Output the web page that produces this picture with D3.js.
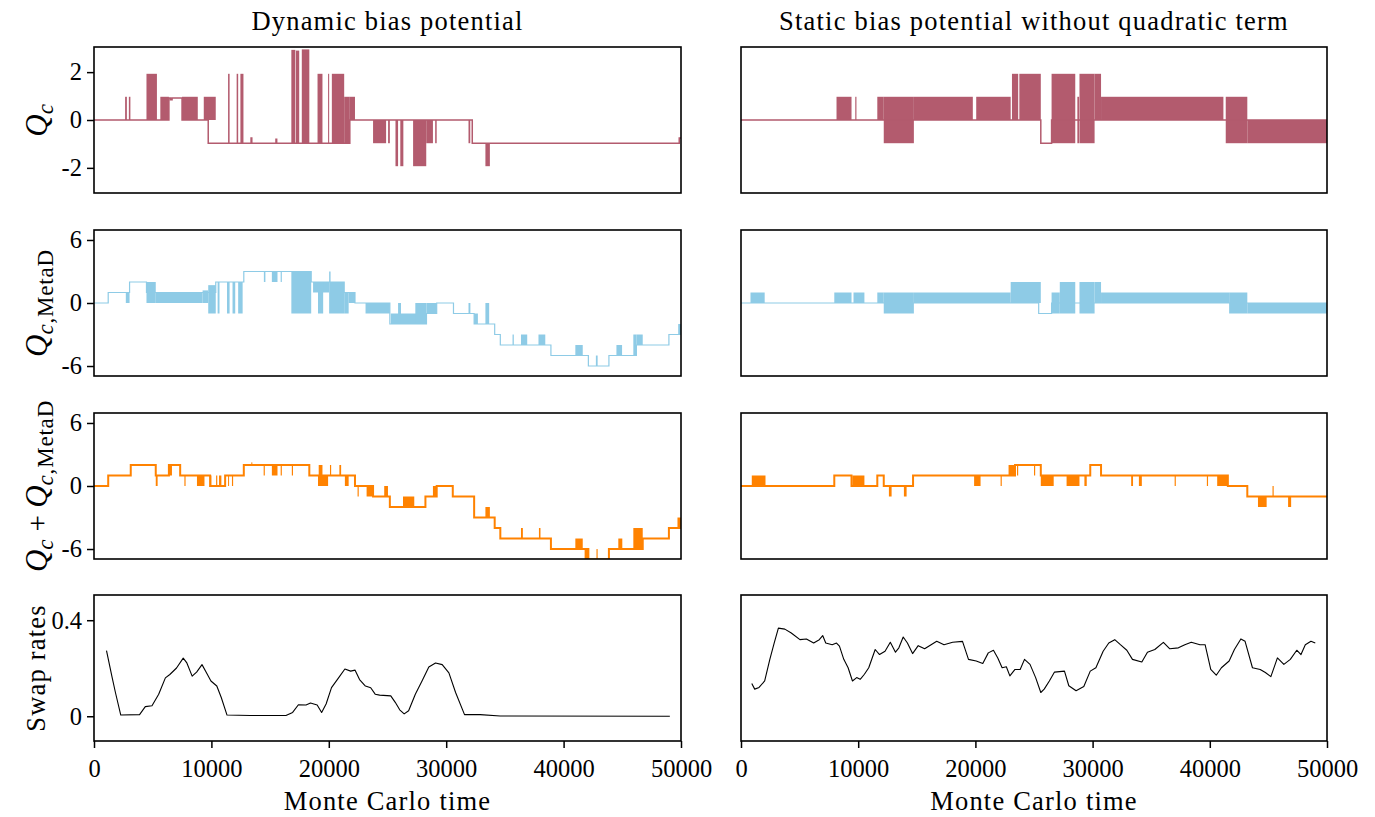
<!DOCTYPE html>
<html lang="en">
<head>
<meta charset="UTF-8">
<title>Bias potential runs</title>
<script src="https://d3js.org/d3.v7.min.js"></script>
<style>
  body { margin: 0; background: #fff; }
  svg text { font-family: "Liberation Serif", serif; fill: #000; }
  .tick text { font-size: 24.5px; }
  .lbl { font-size: 26.5px; letter-spacing: 1.2px; }
</style>
</head>
<body>
<svg id="chart" width="1375" height="817"></svg>
<script>
'use strict';

// shared axes
const xDomain = [0, 50000];
const xTicks = [0, 10000, 20000, 30000, 40000, 50000];
const colTitles = ['Dynamic bias potential', 'Static bias potential without quadratic term'];
const xLabel = 'Monte Carlo time';

const rowDomains = [[-3.05, 3.05], [-6.95, 6.95], [-6.95, 6.95], [-0.103, 0.505]];
const rowTicks = [[-2, 0, 2], [-6, 0, 6], [-6, 0, 6], [0, 0.4]];
const rowTickLabels = [['-2', '0', '2'], ['-6', '0', '6'], ['-6', '0', '6'], ['0', '0.4']];

// Q_c, dynamic bias: [t, value] steps, and [t0, t1, lo, hi] blocks where it flips fast
const qcDynSteps = [[0, 0], [6380, 0.92], [6520, 0.85], [6650, 0.92], [7500, 0], [9730, -0.97],
  [13380, -0.75], [13440, -0.97], [15500, -0.8], [15560, -0.97], [21790, 0], [32220, -0.97],
  [49850, -0.75], [50000, -0.75]];
const qcDynBands = [[2650, 2800, 0, 0.97], [2970, 3100, 0, 0.97], [4470, 5360, 0, 1.93],
  [5650, 6380, 0, 0.97], [7500, 8840, 0, 0.97], [9350, 10370, 0, 0.97],
  [11420, 11550, -0.97, 1.93], [12150, 12280, -0.97, 1.93], [12470, 12730, -0.97, 1.93],
  [16810, 17150, -0.97, 2.93], [17200, 17480, -0.97, 2.9], [17700, 18340, -0.97, 2.95],
  [19040, 19460, -0.97, 1.93], [19940, 20030, -0.97, 1.93], [20260, 21310, -0.97, 1.93],
  [21310, 21790, -0.97, 0.97], [21790, 22230, 0, 0.97], [23770, 24880, -0.97, 0],
  [25050, 25200, -0.97, 0], [25680, 25900, -1.93, 0], [26090, 26350, -1.93, 0],
  [27180, 28300, -1.93, 0], [28300, 28870, -0.97, 0], [29060, 29190, -0.97, 0],
  [31900, 32050, -0.97, 0], [33340, 33720, -1.93, -0.97]];

// Q_c, static bias
const qcStaSteps = [[0, 0], [25580, -0.97], [26500, 0], [50000, 0]];
const qcStaBands = [[8150, 9430, 0, 0.97], [9750, 9850, 0, 0.97], [11630, 12180, 0, 0.97],
  [12180, 14750, -0.97, 0.97], [14750, 19780, 0, 0.97], [20070, 23010, 0, 0.97],
  [23120, 23650, 0, 1.93], [23750, 25580, 0, 1.93], [26500, 28520, -0.97, 1.93],
  [28700, 28850, -0.97, 0.97], [28880, 30170, -0.97, 1.93], [30170, 30720, 0, 1.93],
  [30720, 41160, 0, 0.97], [41360, 43200, -0.97, 0.97], [43200, 50000, -0.97, 0]];

// Q_c,MetaD, dynamic bias
const metaDynSteps = [[0, 0], [1210, 1], [3030, 2], [4470, 1], [10370, 2], [12760, 3],
  [18500, 2], [21310, 1], [22230, 0], [25200, -2], [28320, -1], [29190, 0], [30620, -1],
  [32380, -2], [34130, -3], [34610, -4], [38920, -5], [41630, -5], [42110, -6],
  [43860, -5], [46200, -4], [48970, -3], [50000, -3]];
const metaDynBands = [[2710, 3030, 0, 1], [4470, 5260, 0, 2], [5260, 9250, 0, 1],
  [9250, 9730, 0, 1.2], [9730, 10370, -1, 1.7], [10530, 10690, -1, 2], [11330, 11550, -1, 2],
  [11800, 12030, -1, 2], [12280, 12660, -1, 2], [14470, 14600, 2, 3], [15150, 15630, 2, 3],
  [15900, 16000, 2, 3], [16810, 18500, -1, 3], [18660, 20030, 1, 2], [19080, 19520, -1, 2],
  [20030, 20150, 2, 3], [20030, 21310, -1, 2], [21310, 21690, -1, 1], [21690, 22230, 0, 1],
  [23130, 25200, -1, 0], [25280, 28320, -2, -1], [25900, 26150, -2, 0], [27370, 28320, -2, 0],
  [28320, 29190, -1, 0], [31900, 32060, -1, 0], [32380, 32700, -2, -1], [33340, 33660, -2, 0],
  [35650, 35760, -4, -3], [36370, 36900, -4, -3], [37860, 38440, -4, -3], [41000, 41630, -5, -4],
  [42750, 42900, -6, -5], [44500, 44980, -5, -4], [45940, 46200, -5, -3], [46200, 46740, -4, -3],
  [49760, 50000, -3, -2]];

// Q_c,MetaD, static bias
const metaStaSteps = [[0, 0], [25400, -1], [26500, 0], [50000, 0]];
const metaStaBands = [[810, 2020, 0, 1], [7960, 9430, 0, 1], [9600, 10530, 0, 1],
  [11630, 12180, 0, 1], [12180, 14750, -1, 1], [14750, 23010, 0, 1], [23010, 25580, 0, 2],
  [26500, 27200, -1, 1], [27200, 28520, -1, 2], [28880, 30170, -1, 2], [30170, 30720, 0, 2],
  [30720, 41650, 0, 1], [41650, 43200, -1, 1], [43200, 50000, -1, 0]];

// Q_c + Q_c,MetaD, dynamic bias
const sumDynSteps = [[0, 0], [1210, 1], [3130, 2], [5260, 1], [6380, 2], [7340, 1],
  [9890, 0], [11170, 1], [12760, 2], [18340, 1], [22230, 0], [23770, -1], [25200, -2],
  [28230, -1], [29190, 0], [30560, -1], [32380, -3], [34130, -4], [34610, -5], [38920, -6],
  [42110, -7], [43860, -6], [46740, -5], [48970, -4], [50000, -4]];
const sumDynBands = [[5260, 5420, 0, 1], [6380, 6640, 1, 2], [7700, 7800, 0, 1], [8770, 9410, 0, 1],
  [9890, 10000, 0, 1], [10400, 10500, 0, 1], [10650, 10850, 0, 1], [11420, 11500, 0, 1],
  [11750, 11850, 0, 1], [13400, 13480, 2, 2.25], [14450, 14550, 1, 2], [15150, 15630, 1, 2],
  [15900, 16000, 1, 2], [16850, 16950, 1, 2], [19080, 19940, 0, 1], [19140, 19460, 1, 2],
  [20100, 20200, 1, 2], [20900, 21050, 1, 2], [21370, 21690, 0, 1], [22450, 22550, -1, 0],
  [23220, 23770, -1, 0], [24720, 25040, -1, 0], [26320, 27280, -2, -1], [28870, 29190, -1, 0],
  [33340, 33720, -3, -2], [36370, 36530, -5, -4], [37900, 38030, -5, -4], [41000, 41630, -6, -5],
  [41790, 42110, -7, -6], [42800, 42900, -7, -6], [44660, 45000, -6, -5], [45940, 46740, -6, -4],
  [49700, 50000, -4, -3]];

// Q_c + Q_c,MetaD, static bias
const sumStaSteps = [[0, 0], [7960, 1], [9430, 0], [11630, 1], [12180, 0], [14680, 1],
  [23380, 2], [25580, 1], [29800, 2], [30720, 1], [41540, 0], [43200, -1], [50000, -1]];
const sumStaBands = [[920, 2090, 0, 1], [9500, 10530, 0, 1], [12620, 12850, -1, 0],
  [13900, 14130, -1, 0], [19890, 20440, 0, 1], [22150, 22250, 0, 1], [22830, 23380, 1, 2],
  [23550, 23650, 1, 2], [25000, 25100, 1, 2], [25580, 26680, 0, 1], [27780, 28880, 0, 1],
  [29300, 29500, 0, 1], [33290, 33450, 0, 1], [33950, 34200, 0, 1], [37000, 37100, 0, 1],
  [39750, 39850, 0, 1], [40630, 41540, 0, 1], [44110, 44850, -2, -1], [45350, 45450, -1, 0],
  [46680, 46940, -2, -1]];

// swap rates [t, rate]
const swapDyn = [[1065, 0.273], [1520, 0.167], [1825, 0.099], [2280, 0.005], [3880, 0.007],
  [4370, 0.040], [4940, 0.044], [5510, 0.092], [6080, 0.160], [6460, 0.174], [7030, 0.201],
  [7600, 0.242], [7910, 0.222], [8360, 0.167], [8740, 0.184], [9200, 0.215], [9580, 0.181],
  [9960, 0.147], [10460, 0.126], [10840, 0.078], [11330, 0.005], [13310, 0.003], [16350, 0.003],
  [16920, 0.016], [17410, 0.048], [18060, 0.047], [18440, 0.055], [19010, 0.047], [19390, 0.016],
  [19770, 0.051], [20230, 0.119], [20830, 0.160], [21370, 0.197], [21860, 0.188], [22240, 0.192],
  [22620, 0.153], [23120, 0.126], [23570, 0.119], [23950, 0.092], [24330, 0.088], [25280, 0.085],
  [25660, 0.058], [26040, 0.027], [26420, 0.010], [26800, 0.023], [27370, 0.092], [27940, 0.147],
  [28520, 0.205], [29090, 0.222], [29660, 0.215], [30230, 0.181], [30800, 0.099], [31560, 0.007],
  [32890, 0.007], [34600, 0.001], [49050, 0]];
const swapSta = [[920, 0.136], [1170, 0.113], [1540, 0.120], [2020, 0.147], [2460, 0.237],
  [2830, 0.305], [3190, 0.367], [3740, 0.363], [4290, 0.347], [5030, 0.319], [5580, 0.322],
  [6200, 0.305], [6680, 0.319], [6970, 0.336], [7230, 0.305], [7780, 0.298], [8150, 0.305],
  [8400, 0.292], [8770, 0.237], [9140, 0.202], [9510, 0.147], [9870, 0.161], [10170, 0.154],
  [10530, 0.175], [10900, 0.202], [11450, 0.278], [11820, 0.257], [12290, 0.271], [12740, 0.308],
  [13180, 0.267], [13470, 0.285], [13840, 0.330], [14200, 0.305], [14640, 0.261], [15120, 0.294],
  [15670, 0.281], [16220, 0.298], [16700, 0.312], [17320, 0.298], [18060, 0.308], [18900, 0.312],
  [19410, 0.237], [20070, 0.230], [20630, 0.220], [21100, 0.264], [21540, 0.275], [21910, 0.243],
  [22280, 0.202], [22640, 0.206], [22940, 0.168], [23380, 0.195], [23820, 0.195], [24190, 0.237],
  [24660, 0.216], [25140, 0.161], [25580, 0.099], [25870, 0.113], [26310, 0.147], [26750, 0.184],
  [27600, 0.188], [27970, 0.127], [28590, 0.106], [29250, 0.124], [29800, 0.188], [30280, 0.202],
  [30900, 0.271], [31380, 0.305], [31890, 0.319], [32370, 0.298], [32920, 0.275], [33400, 0.237],
  [34200, 0.226], [34680, 0.267], [35310, 0.278], [36040, 0.308], [36590, 0.281], [37320, 0.285],
  [37870, 0.298], [38420, 0.308], [39160, 0.298], [39600, 0.298], [40080, 0.195], [40550, 0.171],
  [40990, 0.202], [41650, 0.230], [42100, 0.278], [42650, 0.322], [43010, 0.312], [43640, 0.202],
  [44300, 0.195], [44740, 0.182], [45210, 0.165], [45770, 0.243], [46320, 0.216], [46870, 0.237],
  [47420, 0.275], [47780, 0.257], [48150, 0.298], [48630, 0.312], [49000, 0.305]];

// layout
const colX = [94, 741];
const colW = [587, 586];
const rowY = [47, 230, 413, 595];
const rowH = 146;
const rowColors = ['#b35b6e', '#8ecbe6', '#ff8200', '#000'];
const rowWidths = [1.5, 1.2, 2, 1.1];
const yLabelX = [47, 47, 47, 45];

const panels = [
  { row: 0, col: 0, steps: qcDynSteps, bands: qcDynBands },
  { row: 0, col: 1, steps: qcStaSteps, bands: qcStaBands },
  { row: 1, col: 0, steps: metaDynSteps, bands: metaDynBands },
  { row: 1, col: 1, steps: metaStaSteps, bands: metaStaBands },
  { row: 2, col: 0, steps: sumDynSteps, bands: sumDynBands },
  { row: 2, col: 1, steps: sumStaSteps, bands: sumStaBands },
  { row: 3, col: 0, line: swapDyn },
  { row: 3, col: 1, line: swapSta }
];

const svg = d3.select('#chart');

panels.forEach((p, i) => {
  const w = colW[p.col], h = rowH;
  const x = d3.scaleLinear().domain(xDomain).range([0, w]);
  const y = d3.scaleLinear().domain(rowDomains[p.row]).range([h, 0]);
  const color = rowColors[p.row];
  const g = svg.append('g').attr('transform', `translate(${colX[p.col]},${rowY[p.row]})`);

  g.append('clipPath').attr('id', 'clip' + i)
    .append('rect').attr('width', w).attr('height', h);
  const plot = g.append('g').attr('clip-path', `url(#clip${i})`);

  if (p.bands) {
    plot.selectAll('rect.band').data(p.bands).enter().append('rect')
      .attr('class', 'band')
      .attr('x', d => x(d[0]))
      .attr('width', d => Math.max(x(d[1]) - x(d[0]), 1))
      .attr('y', d => y(d[3]))
      .attr('height', d => y(d[2]) - y(d[3]))
      .attr('fill', color);
    plot.append('path').datum(p.steps)
      .attr('fill', 'none').attr('stroke', color).attr('stroke-width', rowWidths[p.row])
      .attr('d', d3.line().x(d => x(d[0])).y(d => y(d[1])).curve(d3.curveStepAfter));
  } else {
    plot.append('path').datum(p.line)
      .attr('fill', 'none').attr('stroke', color).attr('stroke-width', rowWidths[p.row])
      .attr('stroke-linejoin', 'round')
      .attr('d', d3.line().x(d => x(d[0])).y(d => y(d[1])));
  }

  if (p.col === 0) {
    const labels = rowTickLabels[p.row];
    const ay = g.append('g').call(d3.axisLeft(y).tickValues(rowTicks[p.row])
      .tickSize(7).tickPadding(5).tickFormat((d, k) => labels[k]));
    ay.select('.domain').remove();
    ay.selectAll('.tick line').attr('stroke-width', 1.5);
  }
  if (p.row === 3) {
    const ax = g.append('g').attr('transform', `translate(0,${h})`)
      .call(d3.axisBottom(x).tickValues(xTicks).tickSize(7).tickPadding(12).tickFormat(d3.format('d')));
    ax.select('.domain').remove();
    ax.selectAll('.tick line').attr('stroke-width', 1.5);
  }

  g.append('rect').attr('width', w).attr('height', h)
    .attr('fill', 'none').attr('stroke', '#000').attr('stroke-width', 1.6);
});

// column titles and x labels
colTitles.forEach((t, c) => {
  svg.append('text').attr('class', 'lbl').attr('text-anchor', 'middle')
    .attr('x', colX[c] + colW[c] / 2).attr('y', 30).text(t);
  svg.append('text').attr('class', 'lbl').attr('text-anchor', 'middle')
    .attr('x', colX[c] + colW[c] / 2).attr('y', 810).text(xLabel);
});

// y labels (math)
const yLabelParts = [
  [['Q', 'it'], ['c', 'sit']],
  [['Q', 'it'], ['c', 'sit'], [',MetaD', 'sub']],
  [['Q', 'it'], ['c', 'sit'], [' + ', 'up'], ['Q', 'it'], ['c', 'sit'], [',MetaD', 'sub']],
  [['Swap rates', 'plain']]
];
yLabelParts.forEach((parts, r) => {
  const cy = rowY[r] + rowH / 2;
  const t = svg.append('text').attr('text-anchor', 'middle')
    .attr('transform', `translate(${yLabelX[r]},${cy}) rotate(-90)`);
  let shifted = false;
  parts.forEach(([s, kind]) => {
    const sp = t.append('tspan').text(s);
    if (kind === 'it') {
      sp.attr('font-style', 'italic').attr('font-size', 31);
      if (shifted) { sp.attr('dy', -6); shifted = false; }
    } else if (kind === 'sit' || kind === 'sub') {
      sp.attr('font-size', 23).attr('letter-spacing', 0.8);
      if (kind === 'sit') sp.attr('font-style', 'italic');
      if (!shifted) { sp.attr('dy', 6); shifted = true; }
    } else if (kind === 'up') {
      sp.attr('font-size', 29).attr('xml:space', 'preserve');
      if (shifted) { sp.attr('dy', -6); shifted = false; }
    } else {
      sp.attr('font-size', 26.5).attr('letter-spacing', 1.2);
    }
  });
});
</script>
</body>
</html>
